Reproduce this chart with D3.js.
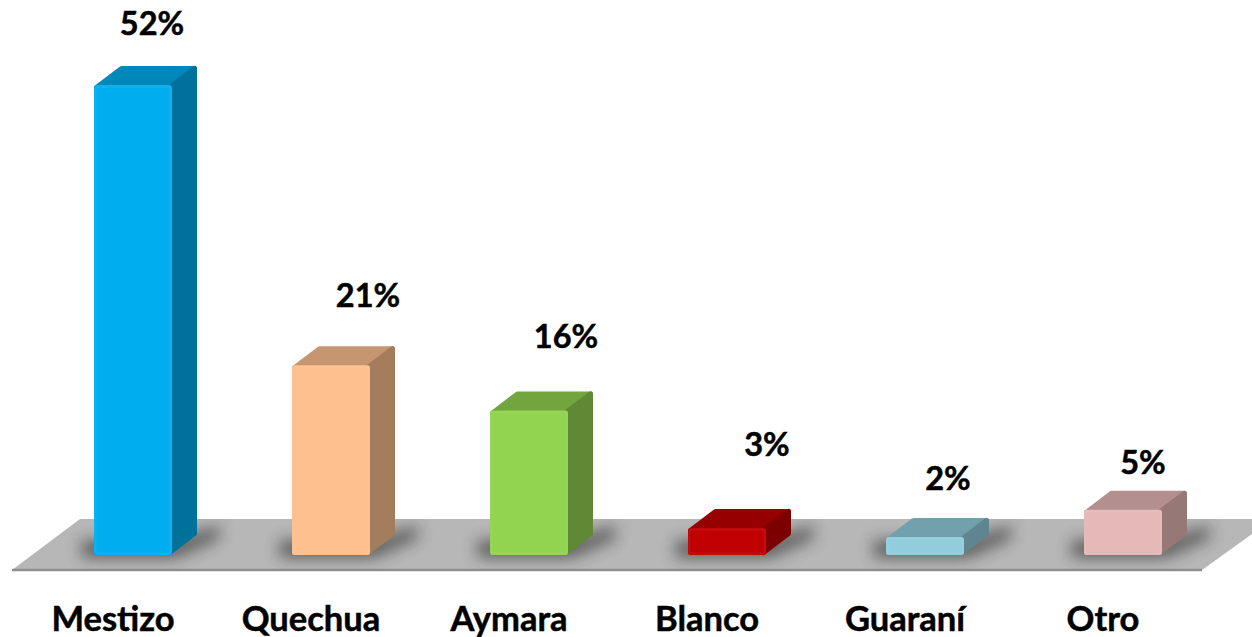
<!DOCTYPE html>
<html>
  <head>
    <meta charset="utf-8">
    <title>Composición étnica</title>
    <script src="https://d3js.org/d3.v7.min.js"></script>
    <style>
      body { margin: 0; background: #fff; overflow: hidden; }
      svg { display: block; }
      text { font-family: Lato, "Open Sans", sans-serif; font-weight: 700; fill: #000; stroke: #000; stroke-width: 0.5px; }
    </style>
  </head>
  <body>
    <div id="chart"></div>
    <script>
      var categories = ["Mestizo", "Quechua", "Aymara", "Blanco", "Guaraní", "Otro"];
      var shares = [52, 21, 16, 3, 2, 5];

      var width = 1252, height = 637;
      var frontColors = ["#00aeef", "#fdc08e", "#92d350", "#c00000", "#92cddd", "#e6b8b7"];
      // the value labels float off the bars by hand in the original
      var labelNudge = [[19, -50], [37, -58], [37, -62], [40, -72], [23, -47], [20, -36]];

      var depthX = 25, depthY = 19;
      var floorTop = 519, floorBottom = 570;

      var x = d3.scaleBand().domain(categories).range([94, 1162]).paddingInner(120 / 198);
      var y = d3.scaleLinear().domain([0, 52]).range([555, 85]);
      var bw = x.bandwidth();

      var svg = d3.select("#chart").append("svg")
        .attr("width", width)
        .attr("height", height);

      var defs = svg.append("defs");
      defs.append("filter").attr("id", "blur")
        .attr("x", "-40%").attr("y", "-100%").attr("width", "180%").attr("height", "300%")
        .append("feGaussianBlur").attr("stdDeviation", 8);
      var floorPts = [[80, floorTop], [1273, floorTop], [1202, floorBottom], [12, floorBottom]];
      defs.append("clipPath").attr("id", "floor-clip")
        .append("polygon").attr("points", floorPts.join(" "));

      // floor
      svg.append("polygon")
        .attr("points", floorPts.join(" "))
        .attr("fill", "#b7b7b7");
      svg.append("line")
        .attr("x1", 12).attr("x2", 1202)
        .attr("y1", floorBottom).attr("y2", floorBottom)
        .attr("stroke", "#8f8f8f")
        .attr("stroke-width", 2.5);

      var rows = categories.map(function(c, i) {
        return {name: c, value: shares[i], color: frontColors[i], nudge: labelNudge[i]};
      });

      function shade(c, k) {
        var r = d3.rgb(c);
        return d3.rgb(r.r * k, r.g * k, r.b * k).formatHex();
      }

      // soft shadows on the floor
      svg.append("g").attr("clip-path", "url(#floor-clip)")
        .selectAll("polygon").data(rows).enter().append("polygon")
        .attr("filter", "url(#blur)")
        .attr("fill", "#333")
        .attr("opacity", 0.75)
        .attr("points", function(d) {
          var l = x(d.name), b = y(0);
          return [[l - 12, b + 2], [l + bw + 4, b + 2], [l + bw + depthX + 22, b - depthY + 2],
                  [l + bw + depthX + 22, b - depthY - 10], [l + bw, b - 14], [l - 12, b - 14]].join(" ");
        });

      var bars = svg.append("g").selectAll("g").data(rows).enter().append("g");

      // inset and stroked round, that gives the soft corners
      var inset = 2.5;
      function face(sel, pts, k) {
        sel.append("polygon")
          .attr("points", pts)
          .attr("fill", function(d) { return shade(d.color, k); })
          .attr("stroke", function(d) { return shade(d.color, k); })
          .attr("stroke-width", inset * 2)
          .attr("stroke-linejoin", "round");
      }

      face(bars, function(d) {
        var l = x(d.name) + inset, r = x(d.name) + bw - inset, t = y(d.value) + inset;
        return [[l, t], [l + depthX, t - depthY], [r + depthX, t - depthY], [r, t]].join(" ");
      }, 0.78);
      face(bars, function(d) {
        var r = x(d.name) + bw - inset, t = y(d.value) + inset, b = y(0) - inset;
        return [[r, t], [r + depthX, t - depthY], [r + depthX, b - depthY], [r, b]].join(" ");
      }, 0.65);
      face(bars, function(d) {
        var l = x(d.name) + inset, r = x(d.name) + bw - inset, t = y(d.value) + inset, b = y(0) - inset;
        return [[l, t], [r, t], [r, b], [l, b]].join(" ");
      }, 1);

      // faint light bevel inside the front
      bars.append("rect")
        .attr("x", function(d) { return x(d.name) + 1.5; })
        .attr("y", function(d) { return y(d.value) + 1.5; })
        .attr("width", bw - 3)
        .attr("height", function(d) { return y(0) - y(d.value) - 3; })
        .attr("rx", 2)
        .attr("fill", "none")
        .attr("stroke", "#fff")
        .attr("stroke-opacity", 0.06)
        .attr("stroke-width", 2);

      // value labels
      svg.append("g").selectAll("text").data(rows).enter().append("text")
        .attr("x", function(d) { return x(d.name) + bw / 2 + d.nudge[0]; })
        .attr("y", function(d) { return y(d.value) + d.nudge[1]; })
        .attr("text-anchor", "middle")
        .attr("font-size", 32.5)
        .text(function(d) { return d.value + "%"; });

      // category axis, labels sit left of the bars as in the original
      var axis = svg.append("g")
        .attr("transform", "translate(-20,0)")
        .call(d3.axisBottom(x).tickSize(0).tickPadding(0))
        .attr("font-family", null)
        .attr("font-size", null);
      axis.select(".domain").remove();
      axis.selectAll("text")
        .attr("y", 631)
        .attr("dy", 0)
        .attr("font-size", 34.5);
    </script>
  </body>
</html>
